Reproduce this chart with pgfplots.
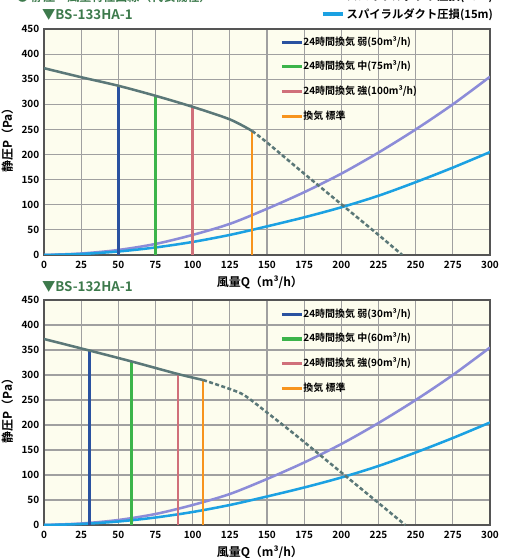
\documentclass[border=0pt]{standalone}
\usepackage{fontspec}
\setmainfont{Noto Sans CJK JP}[UprightFont=* Bold, BoldFont=* Bold]
\usepackage{pgfplots}
\pgfplotsset{compat=1.18}
\definecolor{bgc}{HTML}{FDFDEE}
\definecolor{gridc}{HTML}{A0A0A0}
\definecolor{axisc}{HTML}{555555}
\definecolor{pqc}{HTML}{5B7878}
\definecolor{ductA}{HTML}{8C8CD8}
\definecolor{ductB}{HTML}{1BA1E2}
\definecolor{vblue}{HTML}{2A52A0}
\definecolor{vgreen}{HTML}{3CB44A}
\definecolor{vred}{HTML}{D0707A}
\definecolor{vorange}{HTML}{F7941D}
\definecolor{subg}{HTML}{3D7A4C}
\pgfplotsset{
 chart/.style={
  scale only axis, width=334.5pt,
  xmin=0,xmax=300,ymin=0,ymax=450,
  xtick={0,25,...,300}, ytick={0,50,...,450},
  grid=major, major grid style={gridc, line width=0.9pt},
  major tick length=0pt,
  axis line style={axisc, line width=1.1pt},
  axis background/.style={fill=bgc},
  tick label style={font=\fontsize{7.5}{8}\selectfont},
  /pgf/number format/assume math mode=true,
  xticklabel style={yshift=-1pt},
  xlabel={風量Q（m³/h）},
  ylabel={静圧P（Pa）},
  label style={font=\fontsize{9}{10}\selectfont},
  xlabel style={at={(axis description cs:0.484,-0.12)},anchor=center},
  ylabel style={at={(axis description cs:-0.082,0.52)},anchor=center},
  legend cell align=left,
  legend style={draw=none, fill=none, inner sep=0pt, row sep=11pt,
    font=\fontsize{7.5}{8}\selectfont,
    nodes={inner sep=0pt, text height=6pt, text depth=1.5pt}},
  legend image code/.code={\draw[#1, line width=2.4pt] (0pt,0pt) -- (15pt,0pt);},
  /tikz/every even column/.append style={column sep=3pt},
  duct/.style={line width=1.9pt, smooth, forget plot},
  vline/.style={line width=1.9pt},
  pq/.style={pqc, line width=1.9pt, smooth, forget plot},
 }
}
\begin{document}
\begin{tikzpicture}
\useasboundingbox (0,0) rectangle (381.75pt,418.5pt);
% headers
\node[anchor=west, text=subg, font=\fontsize{9}{10}\selectfont] at (9pt,420.75pt) {● 静圧－風量特性曲線（代表機種）};
\node[anchor=west, font=\fontsize{8.5}{9}\selectfont] at (238.5pt,420.75pt) {\textcolor{ductA}{\rule[2.3pt]{15pt}{3pt}}\hspace{3pt}スパイラルダクト圧損(25m)};
\node[anchor=west, font=\fontsize{8.5}{9}\selectfont] at (238.5pt,407.25pt) {\textcolor{ductB}{\rule[2.3pt]{15pt}{3pt}}\hspace{3pt}スパイラルダクト圧損(15m)};
\node[anchor=west, text=subg, font=\fontsize{10}{11}\selectfont] at (28pt,407.25pt) {▼BS-133HA-1};
\node[anchor=west, text=subg, font=\fontsize{10}{11}\selectfont] at (28pt,203.25pt) {▼BS-132HA-1};

% top axis
\begin{axis}[chart, height=169.5pt, at={(33pt,227.25pt)}, anchor=south west,
  legend style={at={(axis description cs:0.529,0.965)}, anchor=north west}]
\addplot[duct, ductA] coordinates {(0,0)(25,3)(50,10)(75,22)(100,40)(125,62)(150,92)(175,125)(200,162)(225,204)(250,250)(275,300)(300,355)};
\addplot[duct, ductB] coordinates {(0,0)(25,2)(50,7)(75,15)(100,26)(125,40)(150,57)(175,75)(200,95)(225,118)(250,145)(275,174)(300,205)};
\addplot[vline, vblue] coordinates {(50,0)(50,337)};
\addlegendentry{24時間換気 弱(50m³/h)}
\addplot[vline, vgreen] coordinates {(75,0)(75,317)};
\addlegendentry{24時間換気 中(75m³/h)}
\addplot[vline, vred] coordinates {(100,0)(100,295)};
\addlegendentry{24時間換気 強(100m³/h)}
\addplot[vline, vorange] coordinates {(140,0)(140,247)};
\addlegendentry{換気 標準}
\addplot[pq] coordinates {(0,372)(25,354)(50,337)(75,317)(100,295)(125,270)(140,247)};
\addplot[pq, dash pattern=on 3pt off 1.8pt] coordinates {(140,247)(150,224)(175,162)(200,101)(225,40)(241,0)};
\end{axis}

% bottom axis
\begin{axis}[chart, height=168.75pt, at={(33pt,24.75pt)}, anchor=south west,
  legend style={at={(axis description cs:0.529,0.96)}, anchor=north west}]
\addplot[duct, ductA] coordinates {(0,0)(25,3)(50,10)(75,22)(100,40)(125,62)(150,92)(175,125)(200,162)(225,204)(250,250)(275,300)(300,355)};
\addplot[duct, ductB] coordinates {(0,0)(25,2)(50,7)(75,15)(100,26)(125,40)(150,57)(175,75)(200,95)(225,118)(250,145)(275,174)(300,205)};
\addplot[vline, vblue] coordinates {(30.5,0)(30.5,349)};
\addlegendentry{24時間換気 弱(30m³/h)}
\addplot[vline, vgreen] coordinates {(59,0)(59,327)};
\addlegendentry{24時間換気 中(60m³/h)}
\addplot[vline, vred] coordinates {(90,0)(90,302)};
\addlegendentry{24時間換気 強(90m³/h)}
\addplot[vline, vorange] coordinates {(107,0)(107,290)};
\addlegendentry{換気 標準}
\addplot[pq] coordinates {(0,372)(30.5,349)(59,327)(90,302)(107,290)};
\addplot[pq, dash pattern=on 3pt off 1.8pt] coordinates {(107,290)(125,272)(135,259)(150,225)(165,190)(175,166)(200,105)(225,44)(243,0)};
\end{axis}
\end{tikzpicture}
\end{document}
